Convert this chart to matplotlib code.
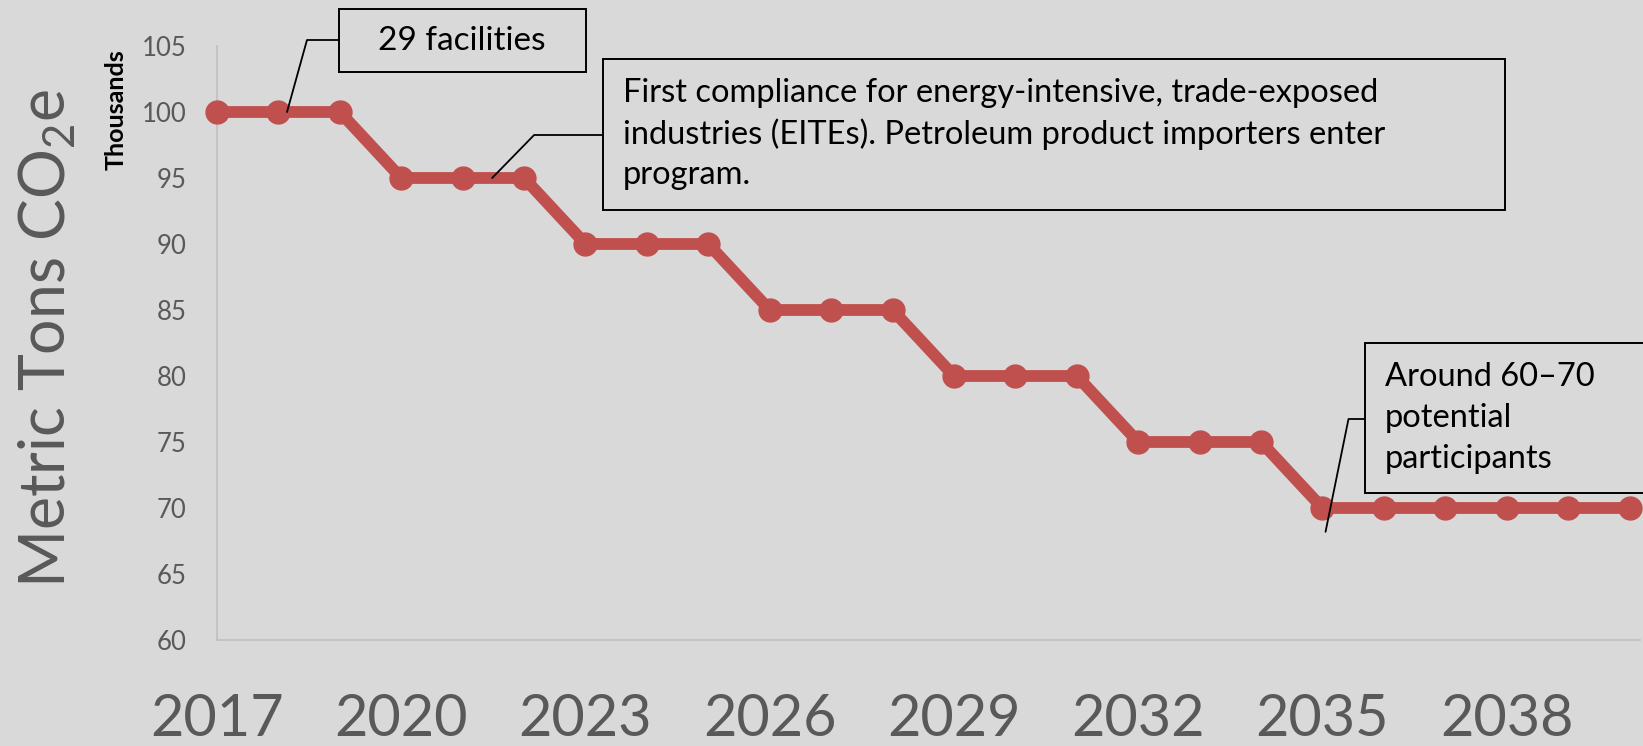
import matplotlib
matplotlib.use("Agg")
import matplotlib.pyplot as plt
from matplotlib.patches import Rectangle

plt.rcParams['font.family'] = ['Lato', 'DejaVu Sans']
plt.rcParams['mathtext.fontset'] = 'custom'
plt.rcParams['mathtext.rm'] = 'Lato'

# data (metric tons CO2e)
years = [2017, 2018, 2019, 2020, 2021, 2022, 2023, 2024, 2025, 2026, 2027, 2028,
         2029, 2030, 2031, 2032, 2033, 2034, 2035, 2036, 2037, 2038, 2039, 2040]
threshold = [100000, 100000, 100000, 95000, 95000, 95000, 90000, 90000, 90000,
             85000, 85000, 85000, 80000, 80000, 80000, 75000, 75000, 75000,
             70000, 70000, 70000, 70000, 70000, 70000]
year_ticks = [2017, 2020, 2023, 2026, 2029, 2032, 2035, 2038]
y_ticks = [60, 65, 70, 75, 80, 85, 90, 95, 100, 105]

bg = '#D9D9D9'
grey = '#595959'
red = '#C0504D'

W, H = 1643, 746
fig = plt.figure(figsize=(W / 100, H / 100), dpi=100, facecolor=bg)
ax = fig.add_axes([217 / W, (H - 640) / H, (1640 - 217) / W, 594 / H])
ax.set_facecolor(bg)

ax.plot(years, [v / 1000 for v in threshold], color=red, lw=8.5,
        marker='o', ms=16.5, clip_on=False, zorder=3)

ax.set_xlim(2017, 2040.17)
ax.set_ylim(60, 105)
ax.set_xticks(year_ticks)
ax.set_yticks(y_ticks)
ax.tick_params(axis='x', length=0, pad=38, labelsize=41.5, labelcolor=grey)
ax.tick_params(axis='y', length=0, pad=22, labelsize=18.5, labelcolor=grey)
for s in ['top', 'right']:
    ax.spines[s].set_visible(False)
for s in ['left', 'bottom']:
    ax.spines[s].set_color('#BFBFBF')
    ax.spines[s].set_linewidth(1.2)

fig.text(47 / W, (H - 338) / H, r'Metric Tons CO$_{\mathrm{2}}$e', rotation=90,
         ha='center', va='center', fontsize=45, color=grey)
fig.text(116 / W, (H - 110) / H, 'Thousands', rotation=90, ha='center',
         va='center', fontsize=18, fontweight='bold', color='black')

# callout boxes (figure pixels, y from top)
def box(x0, y0, x1, y1):
    fig.patches.append(Rectangle((x0 / W, (H - y1) / H), (x1 - x0) / W,
                                 (y1 - y0) / H, transform=fig.transFigure,
                                 facecolor=bg, edgecolor='black', lw=1.4,
                                 zorder=5))

def leader(x0, y0, xy, angle):
    ax.annotate('', xy=xy, xycoords='data', xytext=(x0, H - y0),
                textcoords='figure pixels',
                arrowprops=dict(arrowstyle='-', lw=1.3, color='black',
                                shrinkA=0, shrinkB=0,
                                connectionstyle='angle,angleA=0,angleB=%g,rad=0' % angle))

box(339, 9, 586, 72)
fig.text(462 / W, (H - 41) / H, '29 facilities', ha='center', va='center',
         fontsize=24, zorder=6)
leader(339, 40, (2018.14, 100), 74.5)

box(603, 59, 1505, 210)
fig.text(623 / W, (H - 134) / H,
         'First compliance for energy-intensive, trade-exposed\n'
         'industries (EITEs). Petroleum product importers enter\nprogram.',
         ha='left', va='center', fontsize=23.5, linespacing=1.4, zorder=6)
leader(603, 135, (2021.48, 95), 45.7)

box(1365, 343, 1650, 493)
fig.text(1385 / W, (H - 418) / H, 'Around 60\u201370\npotential\nparticipants',
         ha='left', va='center', fontsize=23.5, linespacing=1.45, zorder=6)
leader(1365, 419, (2035.05, 68.2), 78.5)

fig.savefig('out.png', dpi=100, facecolor=bg)
